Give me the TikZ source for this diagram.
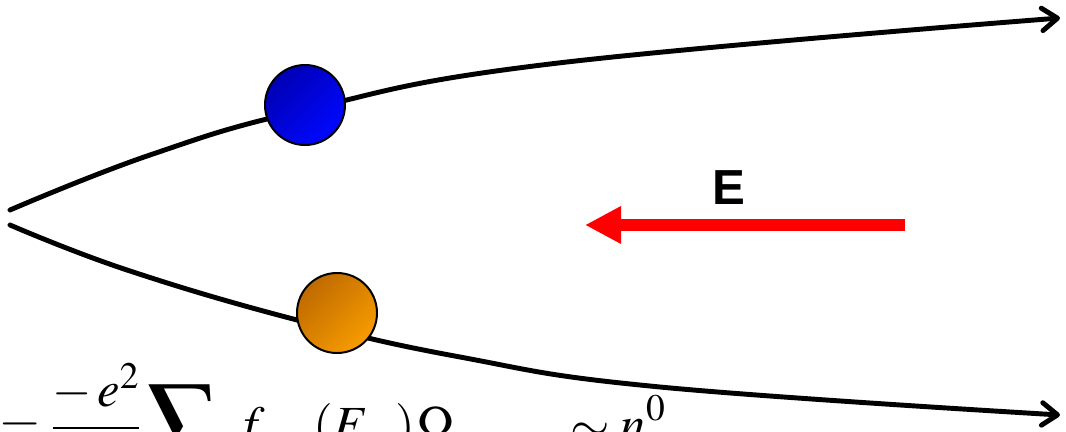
\documentclass[tikz,border=0pt]{standalone}
\usepackage{mathptmx}
\usepackage{fontspec}
\newfontfamily\labelfont{Liberation Sans}
\usepackage{tikz}
\usetikzlibrary{arrows.meta,positioning}
\definecolor{carrierBlueDark}{HTML}{0000B4}
\definecolor{carrierBlue}{HTML}{0008FF}
\definecolor{carrierOrangeDark}{HTML}{BE6A00}
\definecolor{carrierOrange}{HTML}{F89C00}
\definecolor{fieldColor}{HTML}{FF0000}
% subscripts that sit below the cut
\newcommand{\lowsub}[1]{_{\raisebox{-16pt}{$\scriptstyle #1$}}}

\begin{document}
\begin{tikzpicture}[
    x=0.025cm, y=-0.025cm,
    path/.style={line width=3.5pt, line cap=round, -{Straight Barb[length=11pt, width=16pt, round]}},
    carrier/.style={circle, draw=black, line width=1.4pt, minimum size=2cm, inner sep=0pt},
    field/.style={line width=8.5pt, draw=fieldColor, -{Triangle[length=25.6pt, width=25pt]}},
  ]
  \useasboundingbox (0,0) rectangle (1066,432);
  \clip (0,0) rectangle (1066,432);

  % Trajectories
  \draw[path] plot[smooth, tension=0.7] coordinates
    {(10,210) (150,155) (305,110) (550,64) (1060,18)};
  \draw[path] plot[smooth, tension=0.7] coordinates
    {(10,225) (127,270) (297,320) (460,357) (660,387) (1060,415)};

  % Carriers
  \node[carrier, top color=carrierBlueDark, bottom color=carrierBlue, shading angle=45] (blueball) at (305,105) {};
  \node[carrier, top color=carrierOrangeDark, bottom color=carrierOrange, shading angle=45] (orangeball) at (337,313) {};

  % Field
  \coordinate (fieldtail) at (905,225);
  \coordinate (fieldhead) at (585,225);
  \draw[field] (fieldtail) -- (fieldhead);
  \node[font=\labelfont\bfseries\fontsize{35}{40}\selectfont] (fieldlabel) at (729,188) {E};

  % Formula
  \node[anchor=base west, inner sep=0pt, font=\fontsize{36}{42}\selectfont] (formula) at (0,441)
    {$\displaystyle = \frac{-\,e^{2}}{\hbar}\kern4pt\vcenter{\hbox{\scalebox{1.4}{$\displaystyle\sum$}}}\kern12pt
      f\lowsub{\alpha}\kern19pt(E\lowsub{\alpha}\kern3pt)\kern1pt\Omega\lowsub{\alpha\alpha}\kern35pt\sim n^{0}$};

\end{tikzpicture}
\end{document}
